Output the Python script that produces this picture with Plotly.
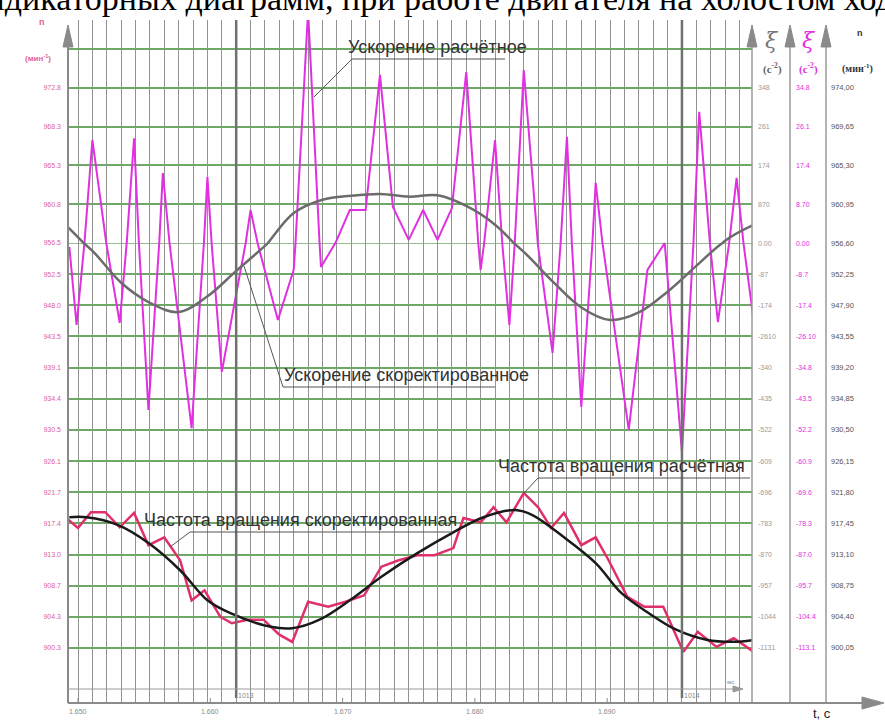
import plotly.graph_objects as go
from plotly.subplots import make_subplots

# ---------------- data ----------------
T0 = 1.650            # time at grid step 0, s
DT = 0.01 / 9.2       # time per grid step, s

# Ускорение расчётное (xi, c^-2) – positions in grid steps
acc_calc_step = [-0.6, -0.1, 1.0, 2.9, 3.9, 4.9, 5.9, 7.9, 9.0, 10.0,
                 12.0, 13.9, 15.0, 16.0, 16.9, 18.0, 18.9, 20.0, 21.0, 21.9,
                 23.0, 24.0, 25.0, 26.0, 27.0, 28.0, 29.0, 30.0, 31.0, 32.0,
                 33.0, 34.0, 35.0, 36.0, 38.3, 39.6, 40.8, 42.0, 43.2, 44.5,
                 45.8, 47.0]
acc_calc_xi = [-1.1, -22.9, 23.1, -22.3, 23.5, -46.6, 15.7, -51.7, 14.8, -36.0,
               7.4, -21.5, -7.5, 52.0, -6.7, 0.7, 7.4, 7.4, 37.7, 8.1,
               0.7, 7.4, 0.7, 7.8, 38.3, -7.5, 23.1, -22.9, 38.8, -1.0,
               -30.7, 23.8, -45.8, 13.5, -52.2, -7.5, 0.0, -58.4, 29.4, -22.1,
               14.6, -22.1]

# Ускорение скорректированное
acc_corr_step = [-1, 1, 3, 5, 7, 9, 11, 13, 15, 17, 19, 21, 23, 25, 27, 29,
                 31, 33, 35, 37, 39, 41, 43, 45, 47]
acc_corr_xi = [4.5, -2.2, -11.1, -16.7, -19.3, -14.9, -7.8, -0.8, 6.7, 9.7,
               10.6, 11.0, 10.4, 10.7, 8.3, 4.1, -2.5, -10.7, -18.0, -21.5,
               -19.4, -13.6, -6.4, 0.5, 4.1]

# Частота вращения расчётная (n, мин^-1)
freq_calc_step = [-0.8, 0.0, 0.9, 1.9, 2.9, 3.9, 4.9, 6.0, 7.1, 7.9,
                  8.8, 9.9, 10.7, 11.8, 12.9, 14.0, 14.9, 16.0, 17.4, 18.6,
                  19.9, 21.1, 22.3, 23.6, 24.8, 26.1, 26.8, 28.0, 28.9, 29.8,
                  31.0, 32.0, 32.9, 33.8, 35.0, 36.0, 36.9, 38.2, 39.4, 40.7,
                  42.1, 43.1, 44.4, 45.6, 47.0]
freq_calc_n = [918.2, 916.8, 919.0, 919.0, 916.9, 918.9, 914.4, 915.5, 912.3, 906.7,
               908.1, 904.4, 903.5, 904.0, 904.0, 901.9, 900.9, 906.5, 905.8, 906.5,
               907.4, 911.4, 912.3, 913.0, 913.0, 914.0, 918.2, 917.6, 919.7, 917.6,
               921.7, 919.7, 916.8, 918.9, 914.4, 915.5, 912.3, 907.2, 905.8, 905.8,
               899.5, 902.3, 900.2, 901.4, 899.5]

# Частота вращения скорректированная
freq_corr_step = [-0.6, 0.6, 2.8, 4.9, 7.1, 9.0, 10.6, 13.4, 14.9, 16.8, 18.9,
                  21.1, 23.6, 26.1, 28.2, 30.4, 31.6, 33.8, 36.0, 37.8, 39.7,
                  41.6, 43.7, 45.6, 47.1]
freq_corr_n = [918.3, 918.3, 917.2, 914.7, 910.9, 906.7, 904.9, 903.0, 902.8, 904.0,
               906.7, 910.0, 913.3, 916.2, 918.3, 919.3, 918.6, 915.5, 911.9, 907.7,
               904.9, 902.6, 901.2, 900.9, 901.2]

time_ticks = [1.650, 1.660, 1.670, 1.680, 1.690]
time_tick_text = ["1.650", "1.660", "1.670", "1.680", "1.690"]
marker_steps = [11, 42]
marker_text = ["1013", "1014"]

xi_rows = [34.8, 26.1, 17.4, 8.7, 0.0, -8.7, -17.4, -26.1, -34.8, -43.5,
           -52.2, -60.9, -69.6, -78.3, -87.0, -95.7, -104.4, -113.1]
left_labels = ["972.8", "968.3", "965.3", "960.8", "956.5", "952.5", "948.0", "943.5", "939.1",
               "934.4", "930.5", "926.1", "921.7", "917.4", "913.0", "908.7", "904.3", "900.3"]
xi_gray_labels = ["348", "261", "174", "870", "0.00", "-87", "-174", "-2610", "-340",
                  "-435", "-522", "-609", "-696", "-783", "-870", "-957", "-1044", "-1131"]
xi_mag_labels = ["34.8", "26.1", "17.4", "8.70", "0.00", "-8.7", "-17.4", "-26.10", "-34.8",
                 "-43.5", "-52.2", "-60.9", "-69.6", "-78.3", "-87.0", "-95.7", "-104.4", "-113.1"]
n_labels = ["974,00", "969,65", "965,30", "960,95", "956,60", "952,25", "947,90", "943,55", "939,20",
            "934,85", "930,50", "926,15", "921,80", "917,45", "913,10", "908,75", "904,40", "900,05"]

# ---------------- geometry ----------------
W, H = 885, 723
L, R, T, B = 68, 752, 20, 703
ZERO_PX = 243
TOP_ROW_PX = 38.8
BOT_ROW_PX = 31.15
ROW_XI = 8.7
ROW_N = 4.35
X0_PX = 78
STEP_PX = 14.38

def px(x):
    return (x - L) / (R - L)

def py(y):
    return (B - y) / (B - T)

def tt(steps):
    return [T0 + s * DT for s in steps]

top_h = ZERO_PX - T
bot_h = B - ZERO_PX
top_range = [0, top_h / TOP_ROW_PX * ROW_XI]
bot_range = [-bot_h / BOT_ROW_PX * ROW_XI, 0]
n_at_zero = 974.00 - 4 * ROW_N
n_range = [n_at_zero - bot_h / BOT_ROW_PX * ROW_N, n_at_zero]
x_range = [T0 + (L - X0_PX) / STEP_PX * DT, T0 + (R - X0_PX) / STEP_PX * DT]

GREEN = "#6ea866"
VGRID = "#929292"
AXIS = "#8a8a8a"
MAG = "#e030e0"
PINK = "#e0609a"

fig = make_subplots(rows=2, cols=1, shared_xaxes=True, vertical_spacing=0,
                    row_heights=[top_h, bot_h])

for r in (1, 2):
    fig.add_trace(go.Scatter(x=tt(acc_calc_step), y=acc_calc_xi, mode="lines",
                             line=dict(color=MAG, width=2), hoverinfo="skip"), row=r, col=1)
    fig.add_trace(go.Scatter(x=tt(acc_corr_step), y=acc_corr_xi, mode="lines",
                             line=dict(color="#6b6b6b", width=2.5, shape="spline", smoothing=1.0),
                             hoverinfo="skip"), row=r, col=1)

fig.add_trace(go.Scatter(x=tt(freq_calc_step), y=freq_calc_n, mode="lines", xaxis="x2", yaxis="y3",
                         line=dict(color="#e0306a", width=2.5), hoverinfo="skip"))
fig.add_trace(go.Scatter(x=tt(freq_corr_step), y=freq_corr_n, mode="lines", xaxis="x2", yaxis="y3",
                         line=dict(color="#1a1a1a", width=2.5, shape="spline", smoothing=1.0),
                         hoverinfo="skip"))

fig.update_layout(
    width=W, height=H,
    margin=dict(l=L, r=W - R, t=T, b=H - B, pad=0),
    plot_bgcolor="white", paper_bgcolor="white",
    showlegend=False,
    font=dict(family="Liberation Sans, Arial", color="#333"),
    yaxis3=dict(overlaying="y2", anchor="x2", range=n_range, showgrid=False,
                showticklabels=False, zeroline=False, showline=False),
)

fig.update_xaxes(range=x_range, tickmode="linear", tick0=T0, dtick=DT, showgrid=True,
                 gridcolor=VGRID, gridwidth=1, showticklabels=False, zeroline=False,
                 showline=False, ticks="")

fig.update_yaxes(row=1, col=1, range=top_range, tickmode="array",
                 tickvals=[xi_rows[0] + ROW_XI] + xi_rows[:4],
                 ticktext=[" "] + left_labels[:4])
fig.update_yaxes(row=2, col=1, range=bot_range, tickmode="array",
                 tickvals=xi_rows[4:], ticktext=left_labels[4:])
fig.update_yaxes(showgrid=True, gridcolor=GREEN, gridwidth=1.5, zeroline=False, showline=False,
                 ticks="", tickfont=dict(size=7, color=PINK), ticklabelstandoff=6)
fig.update_layout(yaxis3=dict(showgrid=False, showticklabels=False))

shapes = []
shapes.append(dict(type="line", xref="x2 domain", yref="y2", x0=0, x1=1, y0=0, y1=0,
                   line=dict(color=GREEN, width=1.5), layer="below"))
for s in marker_steps:
    shapes.append(dict(type="line", xref="x2", yref="paper", x0=T0 + s * DT, x1=T0 + s * DT,
                       y0=py(698), y1=py(T), line=dict(color="#707070", width=2.5)))
shapes.append(dict(type="line", xref="paper", yref="paper", x0=px(68), x1=px(68), y0=py(B), y1=py(40),
                   line=dict(color=AXIS, width=2)))
for xa in (752, 790, 826):
    shapes.append(dict(type="line", xref="paper", yref="paper", x0=px(xa), x1=px(xa), y0=py(B), y1=py(40),
                       line=dict(color="#9a9a9a", width=1.5)))
shapes.append(dict(type="line", xref="paper", yref="paper", x0=px(68), x1=px(866), y0=py(B), y1=py(B),
                   line=dict(color=AXIS, width=2)))
shapes.append(dict(type="line", xref="paper", yref="paper", x0=px(68), x1=px(736), y0=py(689), y1=py(689),
                   line=dict(color="#9a9a9a", width=1)))

def tri(pts):
    return "M " + " L ".join(f"{px(a):.5f},{py(b):.5f}" for a, b in pts) + " Z"

for xa in (68, 752, 790, 826):
    shapes.append(dict(type="path", xref="paper", yref="paper", path=tri([(xa - 5, 47), (xa, 25), (xa + 5, 47)]),
                       fillcolor=AXIS, line=dict(color=AXIS, width=1)))
shapes.append(dict(type="path", xref="paper", yref="paper", path=tri([(862, 697), (884, 703), (862, 709)]),
                   fillcolor=AXIS, line=dict(color=AXIS, width=1)))
shapes.append(dict(type="path", xref="paper", yref="paper", path=tri([(733, 686), (743, 689), (733, 692)]),
                   fillcolor="#9a9a9a", line=dict(color="#9a9a9a", width=1)))

LEAD = "#555"
for (a, b, c, d) in [(352, 59, 505, 59), (352, 59, 314, 97),
                     (283, 387, 495, 387), (283, 387, 244, 266),
                     (538, 478, 750, 478), (538, 478, 524, 493),
                     (190, 532, 452, 532), (190, 532, 170, 547)]:
    shapes.append(dict(type="line", xref="paper", yref="paper", x0=px(a), y0=py(b), x1=px(c), y1=py(d),
                       line=dict(color=LEAD, width=1)))

for tv in time_ticks:
    shapes.append(dict(type="line", xref="x2", yref="paper", x0=tv, x1=tv, y0=py(B), y1=py(698),
                       line=dict(color="#888", width=1)))

fig.update_layout(shapes=shapes)

ann = []
ann.append(dict(text="Индикаторных диаграмм, при работе двигателя на холостом ходу",
                xref="paper", yref="paper", x=px(912), y=py(-2), xanchor="right", yanchor="middle",
                showarrow=False, font=dict(family="Liberation Serif", size=34, color="black")))
for i, yv in enumerate(xi_rows):
    yr = "y" if yv > 0 else "y2"
    ann.append(dict(text=xi_gray_labels[i], xref="paper", yref=yr, x=px(756), y=yv, xanchor="left",
                    yanchor="middle", showarrow=False, font=dict(size=7, color="#9a9a9a")))
    ann.append(dict(text=xi_mag_labels[i], xref="paper", yref=yr, x=px(794), y=yv, xanchor="left",
                    yanchor="middle", showarrow=False, font=dict(size=7, color=MAG)))
    ann.append(dict(text=n_labels[i], xref="paper", yref=yr, x=px(829), y=yv, xanchor="left",
                    yanchor="middle", showarrow=False, font=dict(size=7.5, color="#555")))
hdr = [("<i>ξ</i>", 772, 40, 22, "#777", "DejaVu Serif"),
       ("<i>ξ</i>", 809, 40, 22, MAG, "DejaVu Serif"),
       ("<b>n</b>", 860, 33, 9, "#333", "Liberation Sans"),
       ("<b>(с<sup>-2</sup>)</b>", 772, 68, 11, "#666", "Liberation Serif"),
       ("<b>(с<sup>-2</sup>)</b>", 808, 68, 11, MAG, "Liberation Serif"),
       ("<b>(мин<sup>-1</sup>)</b>", 857, 68, 10, "#333", "Liberation Serif"),
       ("<b>n</b>", 42, 22, 9, PINK, "Liberation Sans"),
       ("<b>(мин<sup>-1</sup>)</b>", 38, 58, 8, PINK, "Liberation Sans"),
       ("t, c", 822, 713, 13, "#222", "Liberation Sans"),
       ("мс", 730, 682, 6, "#888", "Liberation Sans")]
for txt, x, y, sz, col, fam in hdr:
    ann.append(dict(text=txt, xref="paper", yref="paper", x=px(x), y=py(y), xanchor="center",
                    yanchor="middle", showarrow=False, font=dict(size=sz, color=col, family=fam)))
for txt, x, y in [("Ускорение расчётное", 437, 47),
                  ("Ускорение скоректированное", 406, 375),
                  ("Частота вращения расчётная", 621, 466),
                  ("Частота вращения скоректированная", 300, 520)]:
    ann.append(dict(text=txt, xref="paper", yref="paper", x=px(x), y=py(y), xanchor="center",
                    yanchor="middle", showarrow=False, font=dict(size=18, color="#333")))
for tv, tx in zip(time_ticks, time_tick_text):
    ann.append(dict(text=tx, xref="x2", yref="paper", x=tv, y=py(711), xanchor="center",
                    yanchor="middle", showarrow=False, font=dict(size=7, color="#888")))
for s, tx in zip(marker_steps, marker_text):
    ann.append(dict(text=tx, xref="x2", yref="paper", x=T0 + s * DT, y=py(695), xanchor="left",
                    yanchor="middle", showarrow=False, font=dict(size=7, color="#888")))
fig.update_layout(annotations=ann)

fig.write_html("out.html")
